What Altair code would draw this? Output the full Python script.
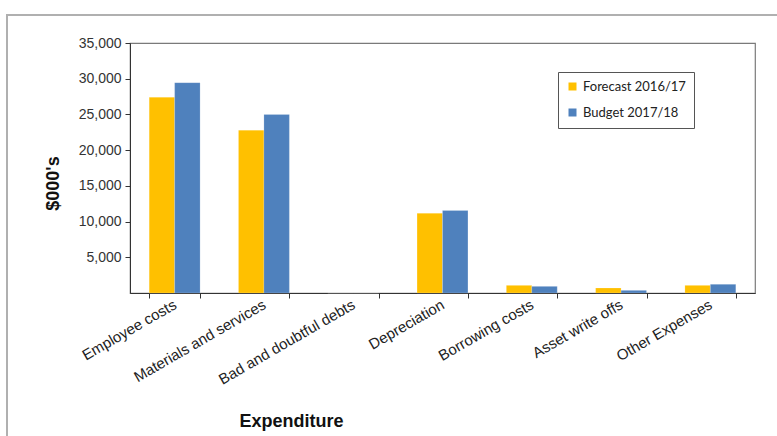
import altair as alt
import pandas as pd

# Expenditure categories and values ($000's)
categories = [
    "Employee costs",
    "Materials and services",
    "Bad and doubtful debts",
    "Depreciation",
    "Borrowing costs",
    "Asset write offs",
    "Other Expenses",
]
forecast_2016_17 = [27400, 22800, 0, 11150, 1070, 700, 1070]
budget_2017_18 = [29450, 25000, 0, 11550, 930, 370, 1220]
series_names = ["Forecast 2016/17", "Budget 2017/18"]
series_colors = ["#FFC000", "#4F81BD"]
y_ticks = [5000, 10000, 15000, 20000, 25000, 30000, 35000]

rows = []
for cat, f, b in zip(categories, forecast_2016_17, budget_2017_18):
    rows.append({"Category": cat, "Series": series_names[0], "Value": f})
    rows.append({"Category": cat, "Series": series_names[1], "Value": b})
df = pd.DataFrame(rows)

font = "Liberation Sans"

bars = alt.Chart(df).mark_bar(stroke="white", strokeOpacity=0.35, strokeWidth=0.5).encode(
    x=alt.X(
        "Category:N",
        sort=categories,
        scale=alt.Scale(paddingInner=0.43, paddingOuter=0.215),
        axis=alt.Axis(
            title="Expenditure",
            titleFont=font,
            titleFontSize=18,
            titleFontWeight="bold",
            titleColor="#111",
            titleX=161,
            titleY=128,
            titleBaseline="middle",
            titleAnchor="middle",
            labelAngle=-30,
            labelAlign="right",
            labelBaseline="middle",
            labelFont=font,
            labelFontSize=15,
            labelColor="#222",
            labelPadding=5,
            tickBand="extent",
            tickSize=5,
            tickColor="#333",
            domainColor="#333",
            labelLimit=300,
        ),
    ),
    xOffset=alt.XOffset("Series:N", sort=series_names),
    y=alt.Y(
        "Value:Q",
        scale=alt.Scale(domain=[0, 35000], nice=False),
        axis=alt.Axis(
            title="$000's",
            titleFont=font,
            titleFontSize=18,
            titleFontWeight="bold",
            titleColor="#111",
            titleX=-77,
            titleY=140,
            titleAngle=-90,
            titleBaseline="middle",
            values=y_ticks,
            format=",.0f",
            labelFont=font,
            labelFontSize=14,
            labelColor="#333",
            labelPadding=4,
            tickSize=5,
            tickColor="#333",
            domainColor="#333",
            grid=False,
        ),
    ),
    color=alt.Color(
        "Series:N",
        sort=series_names,
        scale=alt.Scale(domain=series_names, range=series_colors),
        legend=alt.Legend(
            title=None,
            orient="none",
            legendX=428,
            legendY=29,
            symbolType="square",
            symbolSize=64,
            symbolStrokeWidth=0,
            labelFont="Lato",
            labelFontSize=13,
            labelColor="#222",
            padding=8,
            rowPadding=12,
            strokeColor="#555",
            fillColor="white",
            labelOffset=4,
        ),
    ),
)

# Light outer frame around the whole figure
frame = alt.Chart(df).mark_rect(
    fill=None, stroke="#b0b0b0", strokeWidth=1.5
).encode(
    x=alt.value(-123), x2=alt.value(660), y=alt.value(-28), y2=alt.value(420)
)

chart = alt.layer(frame, bars).properties(
    width=625,
    height=250,
    autosize="none",
    padding={"left": 130, "top": 43, "right": 22, "bottom": 143},
    background="white",
).configure_view(stroke="#7a7a7a", strokeWidth=1.2)

chart.save("out.html", embed_options={"renderer": "svg", "actions": False})
